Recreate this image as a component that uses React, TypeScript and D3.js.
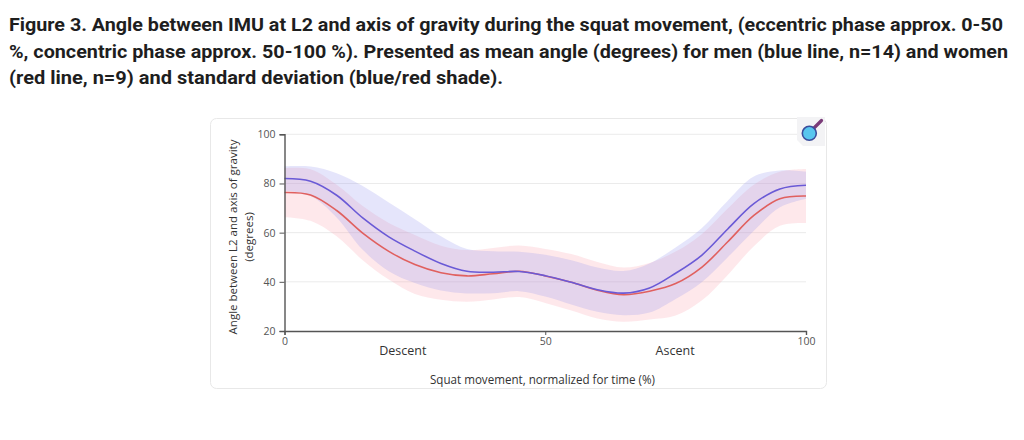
import React, { useEffect, useRef } from 'react';
import * as d3 from 'd3';

// data
const pct = [0, 5, 10, 15, 20, 25, 30, 35, 40, 45, 50, 55, 60, 65, 70, 75, 80, 85, 90, 95, 100];
const menMean = [82.0, 80.9, 75.2, 66.0, 58.3, 52.5, 47.5, 44.3, 43.9, 44.2, 42.5, 39.8, 36.8, 35.4, 37.5, 43.5, 50.8, 61.5, 71.8, 77.8, 79.3];
const menSd = [5, 6, 9, 13, 14, 13, 11, 9, 8.5, 8, 8.5, 9, 9, 9, 10, 10.5, 11, 11.5, 11, 7.5, 5.5];
const womenMean = [76.3, 75.3, 69.0, 59.8, 52.4, 47.0, 43.7, 42.4, 43.3, 44.3, 42.4, 39.8, 36.6, 34.8, 36.2, 39.3, 45.9, 56.3, 67.0, 73.8, 74.9];
const womenSd = [10, 10.5, 10.5, 11, 11.5, 12, 11, 10.5, 10.5, 10.5, 11, 11.5, 11.5, 11, 11.5, 13, 13.5, 13.5, 12.5, 11, 11];

const yTicks = [20, 40, 60, 80, 100];
const xTicks = [0, 50, 100];
const phaseNames = ['Descent', 'Ascent'];
const phaseCenters = [22.7, 74.9];

const titleLines = [
  'Figure 3. Angle between IMU at L2 and axis of gravity during the squat movement, (eccentric phase approx. 0-50',
  '%, concentric phase approx. 50-100 %). Presented as mean angle (degrees) for men (blue line, n=14) and women',
  '(red line, n=9) and standard deviation (blue/red shade).',
];
const titleWidths = [994, 999, 494];

const yLabel = ['Angle between L2 and axis of gravity', '(degrees)'];
const xLabel = 'Squat movement, normalized for time (%)';

export default function App() {
  const ref = useRef<SVGSVGElement>(null);

  useEffect(() => {
    if (!ref.current) return;
    const svg = d3.select(ref.current);
    svg.selectAll('*').remove();

    // 1) TITLE
    titleLines.forEach((t, i) => {
      svg.append('text')
        .attr('x', 9)
        .attr('y', 31 + i * 26.5)
        .attr('textLength', titleWidths[i])
        .attr('lengthAdjust', 'spacingAndGlyphs')
        .attr('font-family', 'Roboto, "Noto Sans", sans-serif')
        .attr('font-weight', 700)
        .attr('font-size', 18.5)
        .attr('fill', '#1e1e1e')
        .text(t);
    });

    // 2) CARD
    svg.append('rect')
      .attr('x', 210.5).attr('y', 118.5)
      .attr('width', 616).attr('height', 270)
      .attr('rx', 6)
      .attr('fill', '#fff')
      .attr('stroke', '#e8e8e8');

    const x = d3.scaleLinear().domain([0, 100]).range([284.5, 806]);
    const y = d3.scaleLinear().domain([20, 100]).range([331, 134.3]);
    const font = '"Open Sans", "Noto Sans", sans-serif';

    // grid
    svg.append('g')
      .selectAll('line')
      .data(yTicks.filter(d => d > 20))
      .enter()
      .append('line')
      .attr('x1', x(0)).attr('x2', x(100))
      .attr('y1', d => y(d)).attr('y2', d => y(d))
      .attr('stroke', '#ebebeb')
      .attr('stroke-width', 1);

    // 3) BANDS AND LINES
    const curve = d3.curveCatmullRom.alpha(0.5);
    const band = (mean: number[], sd: number[]) =>
      d3.area<number>()
        .x(d => x(d))
        .y0((d, i) => y(mean[i] - sd[i]))
        .y1((d, i) => y(mean[i] + sd[i]))
        .curve(curve)(pct);
    const line = (mean: number[]) =>
      d3.line<number>()
        .x(d => x(d))
        .y((d, i) => y(mean[i]))
        .curve(curve)(pct);

    svg.append('path').attr('d', band(womenMean, womenSd)).attr('fill', 'rgb(250,165,175)').attr('fill-opacity', 0.25);
    svg.append('path').attr('d', band(menMean, menSd)).attr('fill', 'rgb(150,150,240)').attr('fill-opacity', 0.25);
    svg.append('path').attr('d', line(womenMean)).attr('fill', 'none').attr('stroke', '#e0605f').attr('stroke-width', 1.6);
    svg.append('path').attr('d', line(menMean)).attr('fill', 'none').attr('stroke', '#6a5ad6').attr('stroke-width', 1.6);

    // 4) AXES
    const yAxis = svg.append('g')
      .attr('transform', `translate(${x(0)},0)`)
      .call(d3.axisLeft(y).tickValues(yTicks).tickSize(5).tickPadding(4));
    const xAxis = svg.append('g')
      .attr('transform', `translate(0,${y(20)})`)
      .call(d3.axisBottom(x).tickValues(xTicks).tickSize(4).tickPadding(3));
    [yAxis, xAxis].forEach(g => {
      g.select('.domain').attr('stroke', '#555').attr('stroke-width', 1.4);
      g.selectAll('.tick line').attr('stroke', '#555');
      g.selectAll('.tick text')
        .attr('fill', '#555')
        .attr('font-size', 10.5)
        .attr('font-family', font);
    });

    // phase labels
    phaseNames.forEach((p, i) => {
      svg.append('text')
        .attr('x', x(phaseCenters[i]))
        .attr('y', 355)
        .attr('text-anchor', 'middle')
        .attr('font-family', font)
        .attr('font-size', 12.5)
        .attr('fill', '#333')
        .text(p);
    });

    svg.append('text')
      .attr('x', 542.5)
      .attr('y', 384)
      .attr('text-anchor', 'middle')
      .attr('textLength', 225)
      .attr('lengthAdjust', 'spacingAndGlyphs')
      .attr('font-family', font)
      .attr('font-size', 12.5)
      .attr('fill', '#333')
      .text(xLabel);

    yLabel.forEach((t, i) => {
      svg.append('text')
        .attr('transform', `translate(${232 + i * 16.5},237) rotate(-90)`)
        .attr('text-anchor', 'middle')
        .attr('dominant-baseline', 'central')
        .attr('font-family', font)
        .attr('font-size', 11.5)
        .attr('fill', '#333')
        .text(t);
    });

    // 5) ICON
    const icon = svg.append('g');
    icon.append('path')
      .attr('d', 'M797,117 H825 V146 H803 L797,140 Z')
      .attr('fill', '#f3f3f5');
    icon.append('line')
      .attr('x1', 814).attr('y1', 128).attr('x2', 821.5).attr('y2', 120.5)
      .attr('stroke', '#7a3b78').attr('stroke-width', 3.2).attr('stroke-linecap', 'round');
    icon.append('circle')
      .attr('cx', 809.3).attr('cy', 133.3).attr('r', 7)
      .attr('fill', '#58c6ee').attr('stroke', '#3b4d9c').attr('stroke-width', 1.6);
  }, []);

  return (
    <svg
      ref={ref}
      width={1024}
      height={440}
      style={{ position: 'absolute', left: 0, top: 0, background: '#fff' }}
    />
  );
}
